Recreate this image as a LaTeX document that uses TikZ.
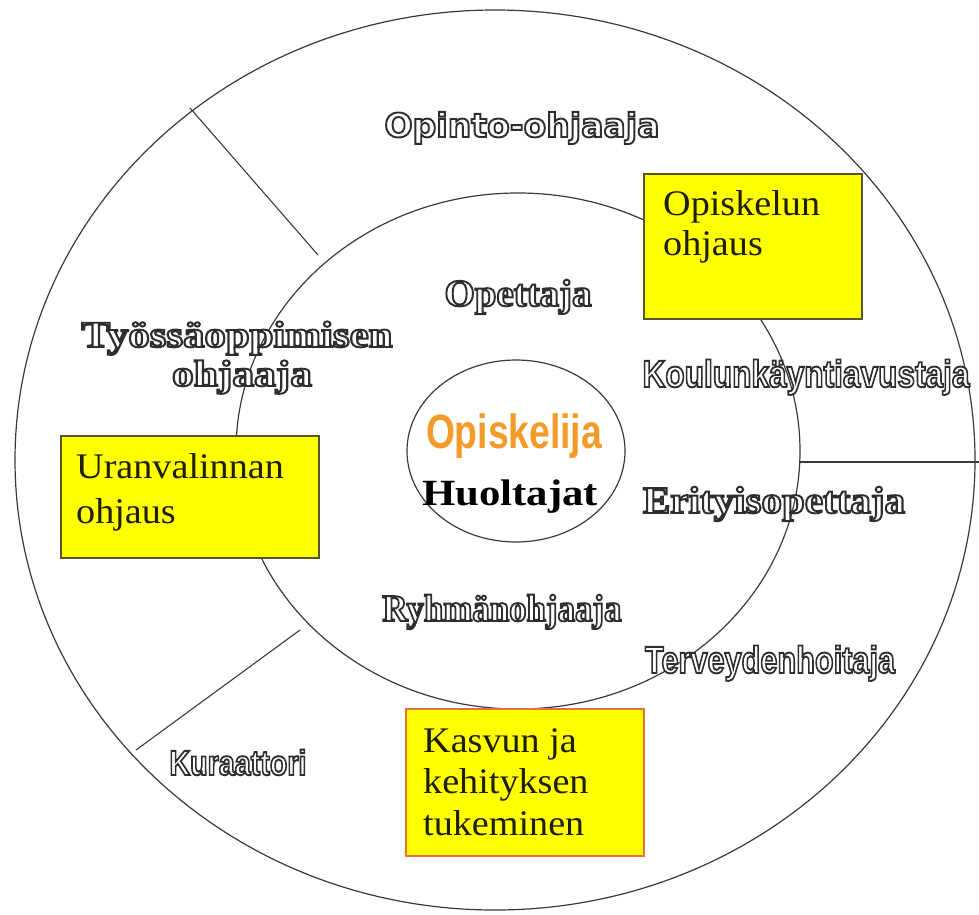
\documentclass[tikz,border=0pt]{standalone}
\usepackage{fontspec}
\usepackage{graphicx}
\setmainfont{Liberation Serif}
\newfontfamily\boxfont[FakeStretch=1.06]{Liberation Serif}
\newfontfamily\dejavu{DejaVu Sans}
\newfontfamily\libsans{Liberation Sans}
\usetikzlibrary{calc}
\newsavebox{\labbox}
\newcommand{\fitw}[2]{\sbox{\labbox}{#2}\pgfmathsetmacro{\labratio}{#1/\wd\labbox}\scalebox{\labratio}[1]{\usebox{\labbox}}}
\newcommand{\hollow}[1]{\special{pdf:literal direct 2 Tr 1.9 w 0.18 G}#1\special{pdf:literal direct 0 Tr}}
\definecolor{ringc}{HTML}{3A3A3A}
\definecolor{boxyellow}{HTML}{FFFF00}
\definecolor{boxedge}{HTML}{55552A}
\definecolor{boxedgeb}{HTML}{E8703A}
\definecolor{orangetxt}{HTML}{F49A28}
\definecolor{boxtextc}{HTML}{1E1E00}
\tikzset{
  ring/.style={draw=ringc, line width=1.2pt},
  divider/.style={draw=ringc, line width=1.1pt},
  yellowbox/.style={draw=boxedge, fill=boxyellow, line width=1.5pt, inner sep=0pt, anchor=north west},
  boxtxt/.style={text=boxtextc, inner sep=0pt, anchor=base west},
  outl/.style={text=white, inner sep=0pt, anchor=base},
}
\begin{document}
\begin{tikzpicture}[x=1pt,y=-1pt]
\useasboundingbox[fill=white] (0,0) rectangle (979,914);
\coordinate (O) at (495,460);
\coordinate (M) at (518,451);
\coordinate (C) at (516,451);
% rings
\draw[ring] (O) ellipse [x radius=480, y radius=450];
\draw[ring] (M) ellipse [x radius=282, y radius=258];
\draw[ring] (C) ellipse [x radius=109, y radius=91];
% dividers
\coordinate (d1o) at (190,108);
\coordinate (d1m) at (318,255);
\coordinate (d2m) at (800,462);
\coordinate (d2o) at (979,462);
\coordinate (d3m) at (300,630);
\coordinate (d3o) at (136,750);
\draw[divider] (d1o) -- (d1m);
\draw[divider] (d2m) -- (d2o);
\draw[divider] (d3m) -- (d3o);
% yellow boxes
\node[yellowbox, minimum width=218pt, minimum height=145pt] (b1) at (643,173) {};
\node[yellowbox, minimum width=258pt, minimum height=122pt] (b2) at (60,435) {};
\node[yellowbox, draw=boxedgeb, minimum width=238pt, minimum height=147pt] (b3) at (405,708) {};
\node[boxtxt, font={\boxfont\fontsize{36}{40}\selectfont}] (t1) at (663,215) {\begin{tabular}[t]{@{}l@{}}Opiskelun\\ohjaus\end{tabular}};
\node[boxtxt, font={\boxfont\fontsize{36}{45}\selectfont}] (t2) at (76,478) {\begin{tabular}[t]{@{}l@{}}Uranvalinnan\\ohjaus\end{tabular}};
\node[boxtxt, font={\boxfont\fontsize{36}{41.5}\selectfont}] (t3) at (423,752) {\begin{tabular}[t]{@{}l@{}}Kasvun ja\\kehityksen\\tukeminen\end{tabular}};
% outlined labels
\node[outl] (opinto) at (522,137) {\fitw{275}{\hollow{\dejavu\bfseries\fontsize{33}{33}\selectfont Opinto-ohjaaja}}};
\node[outl] (opettaja) at (518,306) {\fitw{147}{\hollow{\bfseries\fontsize{38}{38}\selectfont Opettaja}}};
\node[outl] (tyo) at (237,347) {\fitw{311}{\hollow{\bfseries\fontsize{37}{37}\selectfont Työssäoppimisen}}};
\node[outl] (tyo2) at (242,386) {\fitw{140}{\hollow{\bfseries\fontsize{37}{37}\selectfont ohjaaja}}};
\node[outl] (koulu) at (806,387) {\fitw{327}{\hollow{\libsans\bfseries\fontsize{38}{38}\selectfont Koulunkäyntiavustaja}}};
\node[outl] (erity) at (774,513) {\fitw{262}{\hollow{\bfseries\fontsize{38}{38}\selectfont Erityisopettaja}}};
\node[outl] (ryhma) at (502,621) {\fitw{239}{\hollow{\bfseries\fontsize{38}{38}\selectfont Ryhmänohjaaja}}};
\node[outl] (terv) at (770,673) {\fitw{250}{\hollow{\libsans\bfseries\fontsize{38}{38}\selectfont Terveydenhoitaja}}};
\node[outl] (kura) at (238,775) {\fitw{137}{\hollow{\libsans\bfseries\fontsize{35}{35}\selectfont Kuraattori}}};
% centre
\node[inner sep=0pt, anchor=base, text=orangetxt] (opisk) at (514,448) {\fitw{176}{\libsans\bfseries\fontsize{48}{48}\selectfont Opiskelija}};
\node[inner sep=0pt, anchor=base, text=black] (huolt) at (510,505) {\fitw{176}{\bfseries\fontsize{37}{37}\selectfont Huoltajat}};
\end{tikzpicture}
\end{document}
